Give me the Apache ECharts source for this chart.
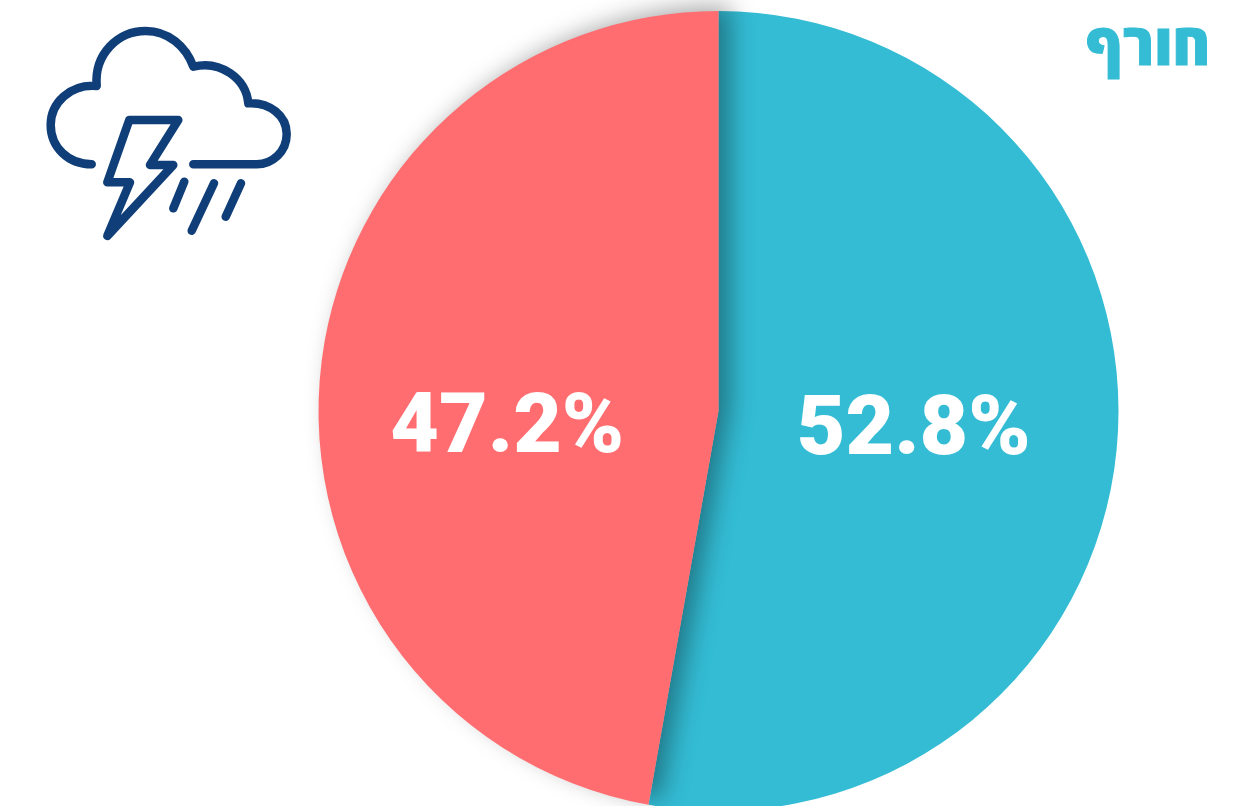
<!DOCTYPE html>
<html lang="he">
<head>
<meta charset="utf-8">
<style>html,body{margin:0;padding:0;background:#fff}#chart{width:1257px;height:806px}</style>
<script src="https://cdn.jsdelivr.net/npm/echarts@6/dist/echarts.min.js"></script>
</head>
<body>
<div id="chart"></div>
<script>
// Season share, winter
const seasonTitle = 'חורף';
const sliceNames = ['a', 'b'];
const sliceValues = [52.8, 47.2];
const sliceColors = ['#33bcd4', '#ff6d70'];
const labelOffsets = [[-7, 4], [-9, 38]];

// Storm-cloud pictogram outlines
const stormIcon = [
  'M91.7 164.3 C68 164.3 50.7 147 50.7 125 C50.7 103 70 84 96.7 86 C94 54 118 31 145.7 31 C168 31 186 46 193.3 66.7 C220 60 246 78 248.3 103.3 C270 102 286.7 116 286.7 134 C286.7 152 272 164.3 256.7 164.3 L193.3 164.3',
  'M129.3 120 L178.3 120 L150 165 L173.3 165 L107.3 236 L130 182.3 L107.3 182.3 Z',
  'M184.3 181.7 L173.3 208.3',
  'M214 183.3 L191.7 230.7',
  'M241 183.3 L225.7 216.7'
];

const chart = echarts.init(document.getElementById('chart'), null, { renderer: 'canvas' });

chart.setOption({
  animation: false,
  backgroundColor: '#ffffff',
  title: {
    text: seasonTitle,
    right: 41,
    top: 15,
    textStyle: {
      fontFamily: '"Open Sans"',
      fontWeight: 800,
      fontSize: 57,
      color: '#33bcd4',
      textBorderColor: '#33bcd4',
      textBorderWidth: 1
    }
  },
  series: [{
    type: 'pie',
    center: [718.5, 411],
    radius: [0, 400],
    startAngle: 90,
    clockwise: true,
    silent: true,
    labelLine: { show: false },
    data: sliceValues.map(function (v, i) {
      const shaded = i === 1;
      return {
        name: sliceNames[i],
        value: v,
        itemStyle: {
          color: sliceColors[i],
          shadowBlur: shaded ? 24 : 0,
          shadowColor: shaded ? 'rgba(0,0,0,0.36)' : 'transparent',
          shadowOffsetX: shaded ? 12 : 0,
          shadowOffsetY: shaded ? -5 : 0
        },
        label: {
          show: true,
          position: 'inside',
          offset: labelOffsets[i],
          formatter: '{c}%',
          color: '#ffffff',
          fontFamily: 'Roboto',
          fontWeight: 900,
          fontSize: 84
        }
      };
    })
  }, {
    type: 'custom',
    coordinateSystem: 'none',
    silent: true,
    data: [0],
    renderItem: function () {
      return {
        type: 'group',
        children: stormIcon.map(function (d) {
          return {
            type: 'path',
            shape: { pathData: d },
            style: {
              fill: 'none',
              stroke: '#0f3e78',
              lineWidth: 8.5,
              lineCap: 'round',
              lineJoin: 'round'
            }
          };
        })
      };
    }
  }]
});
</script>
</body>
</html>
